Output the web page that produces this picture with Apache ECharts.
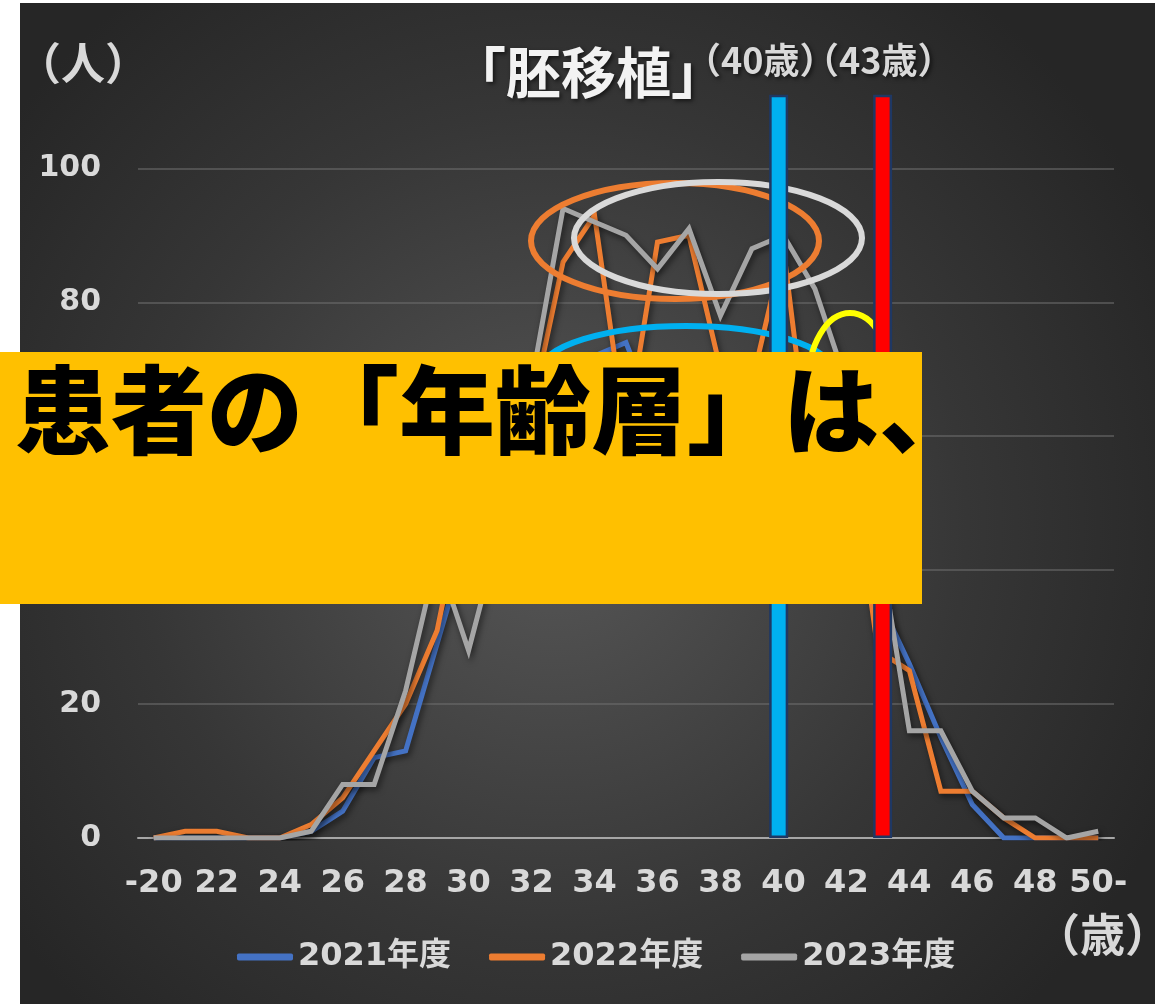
<!DOCTYPE html>
<html>
<head>
<meta charset="utf-8">
<script src="https://cdn.jsdelivr.net/npm/echarts@6/dist/echarts.min.js"></script>
<style>
  html, body { margin: 0; padding: 0; background: #ffffff; }
  #wrap { position: relative; width: 1170px; height: 1004px; overflow: hidden; }
  #panel {
    position: absolute; left: 20px; top: 3px; width: 1135px; height: 1001px;
    background: radial-gradient(circle at 47% 52%, #575757 0%, #474747 25%, #363636 52%, #262626 85%);
  }
  #chart { position: absolute; left: 0; top: 0; width: 1170px; height: 1004px; }
</style>
</head>
<body>
<div id="wrap">
  <div id="panel"></div>
  <div id="chart"></div>
</div>
<script>
// 年齢（歳）
const ages = ['-20', '21', '22', '23', '24', '25', '26', '27', '28', '29',
              '30', '31', '32', '33', '34', '35', '36', '37', '38', '39',
              '40', '41', '42', '43', '44', '45', '46', '47', '48', '49', '50-'];

// 胚移植 患者数（人）
const fy2021 = [0, 0, 0, 0, 0, 1, 4, 12, 13, 29,
                45, 55, 63, 68, 72, 74, 62, 66, 64, 68,
                70, 58, 48, 36, 26, 15, 5, 0, 0, 0, 0];
const fy2022 = [0, 1, 1, 0, 0, 2, 6, 13, 20, 31,
                54, 58, 64, 86, 93, 60, 89, 90, 70, 68,
                88, 50, 62, 28, 25, 7, 7, 3, 0, 0, 0];
const fy2023 = [0, 0, 0, 0, 0, 1, 8, 8, 22, 42,
                28, 46, 68, 94, 92, 90, 85, 91, 78, 88,
                90, 82, 68, 45, 16, 16, 7, 3, 3, 0, 1];

const seriesNames = ['2021年度', '2022年度', '2023年度'];

// 40歳・43歳の目印バー
const markerAges = ['40', '43'];
const markerHeights = [111, 111];

const lineColors = ['#4472c4', '#ed7d31', '#a5a5a5'];
const markerColors = ['#00b0f0', '#ff0000'];
const textGray = '#d9d9d9';
const numFont = '"DejaVu Sans", "Noto Sans CJK JP", sans-serif';
const cjkFont = '"Noto Sans CJK JP", "DejaVu Sans", sans-serif';

const chart = echarts.init(document.getElementById('chart'), null, { renderer: 'canvas' });

function markerData(k) {
  return ages.map(a => (a === markerAges[k] ? markerHeights[k] : '-'));
}

function lineSeries(name, data, color) {
  return {
    name: name,
    type: 'line',
    data: data,
    showSymbol: false,
    symbol: 'none',
    z: 2,
    lineStyle: {
      color: color, width: 5, join: 'miter',
      shadowColor: 'rgba(0,0,0,0.55)', shadowBlur: 6, shadowOffsetX: 2, shadowOffsetY: 3
    },
    itemStyle: { color: color },
    emphasis: { disabled: true }
  };
}

function markerSeries(k) {
  return {
    name: 'marker' + k,
    type: 'bar',
    data: markerData(k),
    barWidth: 19,
    barGap: '-50%',
    z: 10,
    itemStyle: { color: markerColors[k], borderColor: '#1f3864', borderWidth: 2.5 },
    emphasis: { disabled: true }
  };
}

const shadowText = {
  textShadowColor: 'rgba(0,0,0,0.6)', textShadowBlur: 4,
  textShadowOffsetX: 2, textShadowOffsetY: 2
};

const option = {
  animation: false,
  backgroundColor: 'transparent',
  title: [
    {
      text: '「胚移植」', left: 446, top: 40,
      textStyle: Object.assign({ color: '#f2f2f2', fontSize: 55, fontWeight: 'bold', fontFamily: cjkFont }, shadowText)
    },
    {
      text: '（40歳）', left: 680, top: 37,
      textStyle: Object.assign({ color: textGray, fontSize: 36, fontWeight: 'bold', fontFamily: cjkFont }, shadowText)
    },
    {
      text: '（43歳）', left: 798, top: 37,
      textStyle: Object.assign({ color: textGray, fontSize: 36, fontWeight: 'bold', fontFamily: cjkFont }, shadowText)
    },
    {
      text: '（人）', left: 12, top: 36,
      textStyle: { color: textGray, fontSize: 44, fontWeight: 'bold', fontFamily: cjkFont }
    },
    {
      text: '（歳）', left: 1030, top: 907,
      textStyle: { color: textGray, fontSize: 45, fontWeight: 'bold', fontFamily: cjkFont }
    }
  ],
  legend: {
    data: seriesNames,
    left: 232, top: 936,
    icon: 'roundRect',
    itemWidth: 56, itemHeight: 7,
    itemGap: 38,
    selectedMode: false,
    textStyle: { color: textGray, fontSize: 32, fontWeight: 'bold', fontFamily: numFont }
  },
  grid: { left: 138, right: 56, top: 88, bottom: 166, containLabel: false },
  xAxis: {
    type: 'category',
    data: ages,
    boundaryGap: true,
    axisTick: { show: false },
    axisLine: { show: true, lineStyle: { color: '#a6a6a6', width: 2 } },
    axisLabel: {
      interval: 1, margin: 30,
      color: textGray, fontSize: 32, fontWeight: 'bold', fontFamily: numFont
    },
    splitLine: { show: false }
  },
  yAxis: {
    type: 'value',
    min: 0, max: 112, interval: 20,
    axisLine: { show: false },
    axisTick: { show: false },
    axisLabel: {
      margin: 37, showMaxLabel: false,
      color: textGray, fontSize: 30, fontWeight: 'bold', fontFamily: numFont,
      formatter: v => (v % 20 === 0 ? String(v) : '')
    },
    splitLine: {
      show: true, showMaxLine: false, showMinLine: false,
      lineStyle: { color: 'rgba(110,110,110,0.55)', width: 2 }
    }
  },
  series: [
    lineSeries(seriesNames[0], fy2021, lineColors[0]),
    lineSeries(seriesNames[1], fy2022, lineColors[1]),
    lineSeries(seriesNames[2], fy2023, lineColors[2]),
    markerSeries(0),
    markerSeries(1)
  ],
  graphic: {
    elements: [
      // 注目範囲を囲む楕円
      { type: 'ellipse', z: 5, silent: true, shape: { cx: 675, cy: 241, rx: 144, ry: 58 },
        style: { fill: 'none', stroke: '#ed7d31', lineWidth: 6 } },
      { type: 'ellipse', z: 5, silent: true, shape: { cx: 718, cy: 238, rx: 144, ry: 56 },
        style: { fill: 'none', stroke: '#d9d9d9', lineWidth: 6 } },
      { type: 'ellipse', z: 5, silent: true, shape: { cx: 686, cy: 371, rx: 145, ry: 45 },
        style: { fill: 'none', stroke: '#00b0f0', lineWidth: 6 } },
      { type: 'ellipse', z: 5, silent: true, shape: { cx: 850, cy: 384, rx: 42, ry: 71 },
        style: { fill: 'none', stroke: '#ffff00', lineWidth: 6 } },
      // 見出し帯
      { type: 'rect', z: 100, silent: true, shape: { x: 0, y: 352, width: 922, height: 252 },
        style: { fill: '#ffc000' } },
      { type: 'text', z: 101, silent: true,
        style: {
          text: '患者の「年齢層」は、', x: 15, y: 410,
          fill: '#000000', fontSize: 96, fontWeight: 900, fontFamily: cjkFont,
          textAlign: 'left', textVerticalAlign: 'middle'
        } }
    ]
  }
};

chart.setOption(option);
</script>
</body>
</html>
